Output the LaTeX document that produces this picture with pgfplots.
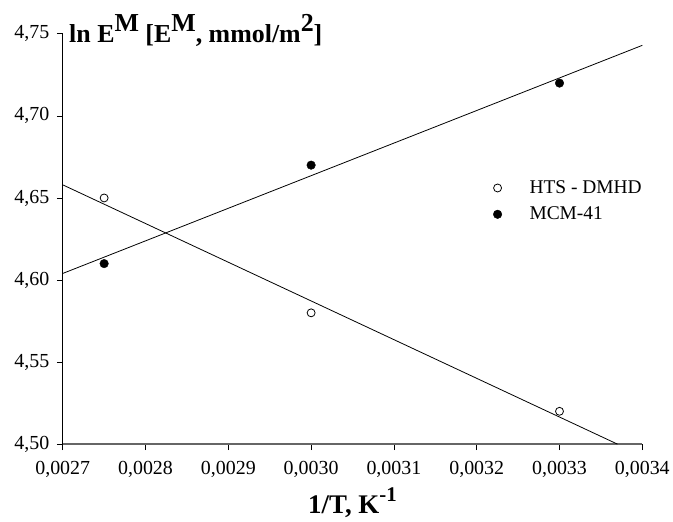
\documentclass[border=0pt]{standalone}
\usepackage{fontspec}
\setmainfont{Liberation Serif}
\usepackage{pgfplots}
\pgfplotsset{compat=1.18}
\pgfplotsset{markleg/.style={legend image code/.code={\path (0cm,0cm) (1.55cm,0cm); \draw[##1] plot coordinates {(0.5cm,0cm)};}}}
\newcommand\up[2]{\raisebox{#1}{#2}}
\begin{document}
\begin{tikzpicture}
\begin{axis}[
  scale only axis, width=582pt, height=412pt,
  xmin=0.0027, xmax=0.0034, ymin=4.50, ymax=4.75,
  axis x line*=bottom, axis y line*=left,
  xtick={0.0027,0.0028,0.0029,0.0030,0.0031,0.0032,0.0033,0.0034},
  ytick={4.50,4.55,4.60,4.65,4.70,4.75},
  tick align=outside, major tick length=6pt,
  tick style={black, line width=0.8pt},
  y axis line style={black, line width=0.8pt},
  x axis line style={black!60, line width=1.3pt},
  scaled x ticks=false, scaled y ticks=false,
  xticklabel style={yshift=-8pt, /pgf/number format/.cd, fixed, fixed zerofill, precision=4, use comma, assume math mode=true},
  yticklabel style={xshift=-4pt, /pgf/number format/.cd, fixed, fixed zerofill, precision=2, use comma, assume math mode=true},
  ticklabel style={font=\fontsize{20}{20}\selectfont},
  clip=false,
  legend style={draw=none, fill=none, at={(rel axis cs:0.72,0.652)}, anchor=north west,
    font=\fontsize{19.5}{19.5}\selectfont, row sep=8pt},
  legend cell align=left,
]
\addplot[black, line width=0.8pt, forget plot] coordinates {(0.0027,4.658) (0.00337,4.50)};
\addplot[black, line width=0.8pt, forget plot] coordinates {(0.0027,4.604) (0.0034,4.743)};
\addplot[only marks, mark=o, mark size=4pt, black, mark options={fill=white, line width=0.8pt}, markleg]
  coordinates {(0.00275,4.65) (0.0030,4.58) (0.0033,4.52)};
\addlegendentry{HTS - DMHD}
\addplot[only marks, mark=*, mark size=4.3pt, black, mark options={fill=black}, markleg]
  coordinates {(0.00275,4.61) (0.0030,4.67) (0.0033,4.72)};
\addlegendentry{MCM-41}
\node[anchor=base west, font=\fontsize{26}{26}\selectfont\bfseries, xshift=3pt, yshift=-9pt] at (rel axis cs:0,1)
  {ln E\up{0.45em}{M} [E\up{0.45em}{M}, mmol/m\up{0.45em}{2}]};
\node[anchor=base, font=\fontsize{27}{27}\selectfont\bfseries, yshift=-70pt] at (rel axis cs:0.5,0)
  {1/T, K\up{0.45em}{\fontsize{21}{21}\selectfont -1}};
\path (rel axis cs:-0.10825,-0.1869) rectangle (rel axis cs:1.0481,1.0825);
\end{axis}
\end{tikzpicture}
\end{document}
